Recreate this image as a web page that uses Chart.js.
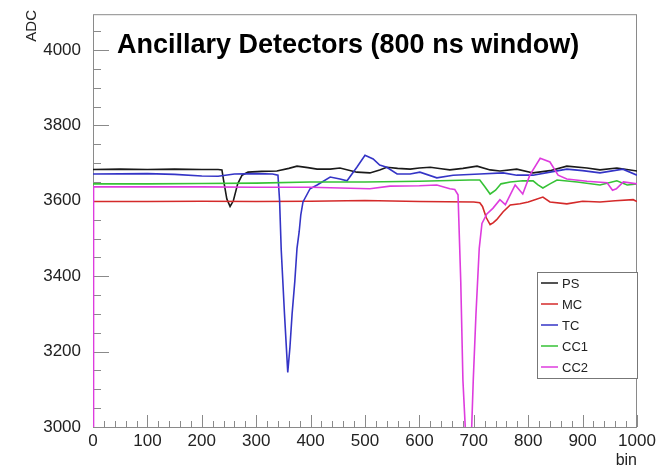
<!DOCTYPE html>
<html>
<head>
<meta charset="utf-8">
<script src="https://cdn.jsdelivr.net/npm/chart.js@4.4.1/dist/chart.umd.min.js"></script>
<style>
  html, body { margin: 0; padding: 0; background: #fff; }
</style>
</head>
<body>
<canvas id="adcChart" width="664" height="468"></canvas>
<script>
// values (bin, ADC)
const seriesNames = ['PS', 'MC', 'TC', 'CC1', 'CC2'];

const psBins = [0, 50, 100, 150, 200, 230, 237, 240, 246, 252, 258, 266, 274, 285, 310, 338, 360, 375, 395, 412, 436, 454, 485, 509, 527, 540, 560, 583, 600, 620, 640, 656, 680, 706, 730, 748, 779, 809, 840, 871, 908, 932, 963, 1000];
const psAdc = [3683, 3684, 3683, 3684, 3683, 3683, 3682, 3655, 3605, 3585, 3600, 3645, 3668, 3676, 3678, 3679, 3686, 3692, 3688, 3684, 3684, 3687, 3676, 3674, 3682, 3689, 3686, 3684, 3687, 3689, 3685, 3682, 3686, 3692, 3682, 3679, 3684, 3674, 3680, 3692, 3687, 3682, 3687, 3679];

const mcBins = [0, 100, 200, 300, 400, 500, 600, 700, 711, 716, 723, 730, 736, 742, 754, 767, 785, 800, 827, 840, 871, 900, 932, 960, 993, 1000];
const mcAdc = [3598, 3598, 3599, 3598, 3599, 3601, 3598, 3597, 3595, 3585, 3555, 3537, 3542, 3550, 3571, 3589, 3592, 3597, 3610, 3597, 3592, 3599, 3597, 3600, 3603, 3598];

const tcBins = [0, 100, 150, 200, 230, 260, 300, 330, 340, 343, 346, 352, 358, 362, 366, 371, 375, 379, 382, 386, 399, 412, 436, 454, 467, 485, 500, 515, 527, 540, 559, 583, 601, 632, 662, 711, 754, 779, 809, 840, 871, 900, 932, 974, 1000];
const tcAdc = [3671, 3672, 3670, 3666, 3665, 3671, 3672, 3671, 3668, 3600, 3470, 3300, 3145, 3211, 3300, 3387, 3474, 3518, 3563, 3597, 3632, 3642, 3663, 3658, 3653, 3689, 3721, 3711, 3695, 3689, 3671, 3671, 3676, 3661, 3668, 3671, 3674, 3668, 3668, 3676, 3684, 3680, 3674, 3684, 3668];

const cc1Bins = [0, 100, 200, 300, 400, 500, 600, 693, 711, 720, 730, 740, 750, 767, 790, 809, 818, 827, 840, 853, 890, 932, 963, 982, 1000];
const cc1Adc = [3645, 3645, 3646, 3647, 3650, 3650, 3652, 3655, 3655, 3638, 3618, 3628, 3645, 3650, 3653, 3653, 3642, 3634, 3645, 3655, 3650, 3642, 3653, 3642, 3645];

const cc2Bins = [0, 1, 100, 200, 300, 400, 509, 546, 600, 632, 656, 665, 671, 676, 680, 686, 690, 695, 699, 704, 710, 715, 724, 735, 748, 758, 776, 790, 803, 822, 840, 855, 871, 908, 945, 955, 962, 975, 1000];
const cc2Adc = [2900, 3637, 3637, 3637, 3636, 3636, 3632, 3639, 3640, 3642, 3632, 3630, 3616, 3387, 3124, 2950, 2950, 2950, 3124, 3300, 3474, 3540, 3565, 3580, 3603, 3590, 3642, 3618, 3668, 3713, 3703, 3668, 3658, 3652, 3648, 3628, 3632, 3650, 3645];

const xTickLabels = [0, 100, 200, 300, 400, 500, 600, 700, 800, 900, 1000];
const yTickLabels = [3000, 3200, 3400, 3600, 3800, 4000];

const colors = ['#1a1a1a', '#d42a2a', '#3434c6', '#36c236', '#de3cde'];
const fontFam = '"Liberation Sans", Arial, Helvetica, sans-serif';

function toPoints(bins, vals) {
    return bins.map((b, i) => ({ x: b, y: vals[i] }));
}

const allBins = [psBins, mcBins, tcBins, cc1Bins, cc2Bins];
const allAdc = [psAdc, mcAdc, tcAdc, cc1Adc, cc2Adc];

// ROOT style frame with inward ticks
const frameTicks = {
    id: 'frameTicks',
    beforeDatasetsDraw(chart) {
        const { ctx, chartArea: a, scales: { x, y } } = chart;
        ctx.save();
        ctx.strokeStyle = '#8a8a8a';
        ctx.lineWidth = 1;
        ctx.strokeRect(a.left + 0.5, a.top + 0.5, a.right - a.left - 1, a.bottom - a.top);
        ctx.beginPath();
        for (let v = 0; v <= 1000; v += 20) {
            const px = Math.round(x.getPixelForValue(v)) + 0.5;
            const len = v % 100 === 0 ? 12 : 6;
            ctx.moveTo(px, a.bottom);
            ctx.lineTo(px, a.bottom - len);
        }
        for (let v = 3000; v <= 4090; v += 50) {
            const py = Math.round(y.getPixelForValue(v)) + 0.5;
            const len = v % 200 === 0 ? 16 : 8;
            ctx.moveTo(a.left, py);
            ctx.lineTo(a.left + len, py);
        }
        ctx.stroke();
        ctx.restore();
    },
    afterDraw(chart) {
        const { ctx, chartArea: a } = chart;
        ctx.save();
        // title
        ctx.fillStyle = '#000';
        ctx.font = 'bold 27px ' + fontFam;
        ctx.textBaseline = 'middle';
        ctx.textAlign = 'left';
        ctx.fillText('Ancillary Detectors (800 ns window)', 117, 46);
        // axis titles
        ctx.font = '16px ' + fontFam;
        ctx.textAlign = 'right';
        ctx.fillStyle = '#222';
        ctx.fillText('bin', a.right, 461);
        ctx.save();
        ctx.translate(32, 10);
        ctx.rotate(-Math.PI / 2);
        ctx.font = '15px ' + fontFam;
        ctx.textAlign = 'right';
        ctx.fillText('ADC', 0, 0);
        ctx.restore();
        // legend box
        const lx = 537, ly = 272, lw = a.right - lx, lh = 106;
        ctx.fillStyle = '#fff';
        ctx.fillRect(lx, ly, lw, lh);
        ctx.strokeStyle = '#777';
        ctx.lineWidth = 1;
        ctx.strokeRect(lx + 0.5, ly + 0.5, lw, lh);
        ctx.font = '13px ' + fontFam;
        ctx.textAlign = 'left';
        chart.data.datasets.forEach((ds, i) => {
            const ry = ly + 11 + i * 21;
            ctx.strokeStyle = ds.borderColor;
            ctx.lineWidth = 1.5;
            ctx.beginPath();
            ctx.moveTo(541, ry);
            ctx.lineTo(558, ry);
            ctx.stroke();
            ctx.fillStyle = '#222';
            ctx.fillText(ds.label, 562, ry + 1);
        });
        ctx.restore();
    }
};

new Chart(document.getElementById('adcChart'), {
    type: 'line',
    data: {
        datasets: seriesNames.map((name, i) => ({
            label: name,
            data: toPoints(allBins[i], allAdc[i]),
            borderColor: colors[i],
            borderWidth: 1.6,
            pointRadius: 0,
            tension: 0,
            fill: false,
            order: seriesNames.length - i
        }))
    },
    options: {
        responsive: false,
        devicePixelRatio: 1,
        animation: false,
        layout: { padding: { top: 11, right: 27, left: 0, bottom: 0 } },
        plugins: { legend: { display: false }, tooltip: { enabled: false } },
        scales: {
            x: {
                type: 'linear',
                min: 0,
                max: 1000,
                grid: { display: false },
                border: { display: false },
                afterFit: (s) => { s.height = 41; },
                afterBuildTicks: (s) => { s.ticks = xTickLabels.map(v => ({ value: v })); },
                ticks: {
                    padding: -4,
                    maxRotation: 0,
                    autoSkip: false,
                    color: '#222',
                    font: { family: fontFam, size: 17 },
                    callback: (v) => String(v)
                }
            },
            y: {
                type: 'linear',
                min: 3000,
                max: 4095,
                grid: { display: false },
                border: { display: false },
                afterFit: (s) => { s.width = 93; },
                afterBuildTicks: (s) => { s.ticks = yTickLabels.map(v => ({ value: v })); },
                ticks: {
                    padding: 4,
                    autoSkip: false,
                    color: '#222',
                    font: { family: fontFam, size: 17 },
                    callback: (v) => String(v)
                }
            }
        }
    },
    plugins: [frameTicks]
});
</script>
</body>
</html>
